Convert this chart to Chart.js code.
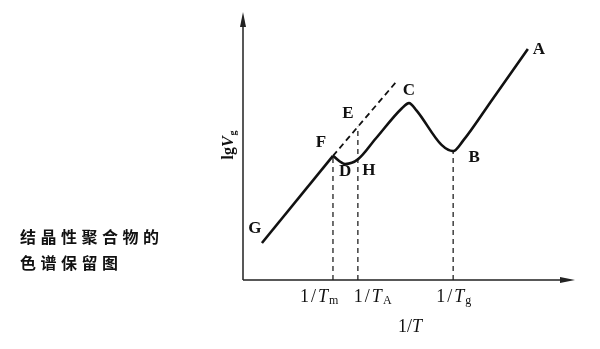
<!DOCTYPE html>
<html>
<head>
<meta charset="utf-8">
<script src="https://cdn.jsdelivr.net/npm/chart.js@4"></script>
<style>
  html, body { margin: 0; padding: 0; background: #fff; }
  canvas { display: block; }
</style>
</head>
<body>
<canvas id="retention" width="600" height="349"></canvas>
<script>
// crystalline polymer retention diagram (lgVg vs 1/T)

// G -> F straight run (melt region)
const meltX = [5.7, 27.1]
const meltY = [13.8, 46.3]

// F -> D -> H -> C -> B -> A
const curveX = [27.1, 30.8, 34.6, 40.0, 47.8, 50.0, 52.3, 59.8, 63.3, 66.3, 75.0, 85.8]
const curveY = [46.3, 43.3, 45.0, 52.8, 64.0, 66.0, 63.2, 50.4, 48.1, 52.0, 67.2, 86.2]

// dashed extrapolation F -> E
const extX = [27.1, 46.4]
const extY = [46.3, 74.3]

// vertical guides at 1/Tm, 1/TA, 1/Tg
const guideX = [27.1, 34.6, 63.3]
const guideTop = [46.3, 57.2, 48.1]
const guideSubs = ['m', 'A', 'g']

// point letters
const pointNames = ['G', 'F', 'E', 'D', 'H', 'C', 'B', 'A']
const pointX = [5.7, 27.1, 34.6, 30.8, 34.6, 50.0, 63.3, 85.8]
const pointY = [13.8, 46.3, 57.2, 43.3, 45.0, 66.0, 48.1, 86.2]

const caption = ['结晶性聚合物的', '色谱保留图']

const toXY = (xs, ys) => xs.map((x, i) => ({ x: x, y: ys[i] }))

const guideSets = guideX.map((x, i) => ({
  data: [{ x: x, y: 0 }, { x: x, y: guideTop[i] }],
  borderColor: '#222',
  borderWidth: 1.3,
  borderDash: [5, 4],
  pointRadius: 0,
  clip: false
}))

const SERIF = "'Liberation Serif', 'DejaVu Serif', serif"

function drawRich(ctx, parts, x, y) {
  let cx = x
  parts.forEach(p => {
    ctx.font = p.f
    ctx.fillText(p.t, cx, y + (p.dy || 0))
    cx += ctx.measureText(p.t).width + (p.gap || 0)
  })
}

function richWidth(ctx, parts) {
  let w = 0
  parts.forEach(p => {
    ctx.font = p.f
    w += ctx.measureText(p.t).width + (p.gap || 0)
  })
  return w
}

// offsets of the letters from their points, in pixels
const letterOffset = {
  G: [-7, -14], F: [-12, -13], E: [-10, -13], D: [0, 8],
  H: [11, 11], C: [0, -13], B: [21, 7], A: [11, 1]
}
const tickShift = [-33, -4, -17]

const decorations = {
  id: 'decorations',
  afterDatasetsDraw(chart) {
    const ctx = chart.ctx
    const xs = chart.scales.x
    const ys = chart.scales.y
    const x0 = xs.getPixelForValue(xs.min)
    const y0 = ys.getPixelForValue(ys.min)
    const xEnd = xs.getPixelForValue(xs.max)
    const yEnd = ys.getPixelForValue(ys.max)
    ctx.save()
    ctx.strokeStyle = '#222'
    ctx.fillStyle = '#222'
    ctx.lineWidth = 1.5
    // axes
    ctx.beginPath()
    ctx.moveTo(x0, y0)
    ctx.lineTo(x0, yEnd + 6)
    ctx.moveTo(x0, y0)
    ctx.lineTo(xEnd - 6, y0)
    ctx.stroke()
    // arrow heads
    ctx.beginPath()
    ctx.moveTo(x0, yEnd)
    ctx.lineTo(x0 - 3, yEnd + 15)
    ctx.lineTo(x0 + 3, yEnd + 15)
    ctx.closePath()
    ctx.fill()
    ctx.beginPath()
    ctx.moveTo(xEnd, y0)
    ctx.lineTo(xEnd - 15, y0 - 3)
    ctx.lineTo(xEnd - 15, y0 + 3)
    ctx.closePath()
    ctx.fill()

    // point letters
    ctx.fillStyle = '#111'
    ctx.font = 'bold 17px ' + SERIF
    ctx.textAlign = 'center'
    ctx.textBaseline = 'middle'
    pointNames.forEach((n, i) => {
      const off = letterOffset[n]
      ctx.fillText(n, xs.getPixelForValue(pointX[i]) + off[0], ys.getPixelForValue(pointY[i]) + off[1])
    })

    // tick labels 1/Tm, 1/TA, 1/Tg
    ctx.textAlign = 'left'
    ctx.textBaseline = 'alphabetic'
    guideX.forEach((v, i) => {
      const parts = [
        { t: '1', f: '18px ' + SERIF, gap: 2 },
        { t: '/', f: '18px ' + SERIF, gap: 2 },
        { t: 'T', f: 'italic 18px ' + SERIF, gap: 1 },
        { t: guideSubs[i], f: '12px ' + SERIF, dy: 2 }
      ]
      drawRich(ctx, parts, xs.getPixelForValue(v) + tickShift[i], y0 + 22)
    })

    // axis title 1/T
    const xt = [
      { t: '1/', f: '18px ' + SERIF },
      { t: 'T', f: 'italic 18px ' + SERIF }
    ]
    drawRich(ctx, xt, 410 - richWidth(ctx, xt) / 2, y0 + 52)

    // y title lgVg
    const yt = [
      { t: 'lg', f: 'bold 16px ' + SERIF },
      { t: 'V', f: 'italic bold 16px ' + SERIF, gap: 1 },
      { t: 'g', f: 'bold 10px ' + SERIF, dy: 3 }
    ]
    ctx.translate(x0 - 10, 145)
    ctx.rotate(-Math.PI / 2)
    drawRich(ctx, yt, -richWidth(ctx, yt) / 2, 0)
    ctx.restore()

    // caption
    ctx.save()
    ctx.fillStyle = '#111'
    ctx.font = 'bold 16px "Noto Sans CJK SC"'
    ctx.textBaseline = 'middle'
    caption.forEach((line, r) => {
      Array.from(line).forEach((ch, k) => {
        ctx.fillText(ch, 20 + k * 20.5, 237 + r * 26)
      })
    })
    ctx.restore()
  }
}

const retention = new Chart(document.getElementById('retention').getContext('2d'), {
  type: 'line',
  data: {
    datasets: [
      {
        data: toXY(meltX, meltY),
        borderColor: '#111',
        borderWidth: 2.6,
        pointRadius: 0,
        clip: false
      },
      {
        data: toXY(curveX, curveY),
        borderColor: '#111',
        borderWidth: 2.6,
        pointRadius: 0,
        cubicInterpolationMode: 'monotone',
        clip: false
      },
      {
        data: toXY(extX, extY),
        borderColor: '#111',
        borderWidth: 1.8,
        borderDash: [6, 4],
        pointRadius: 0,
        clip: false
      },
      ...guideSets
    ]
  },
  options: {
    responsive: false,
    animation: false,
    events: [],
    layout: { padding: { left: 243, right: 25, top: 12, bottom: 69 } },
    scales: {
      x: { type: 'linear', min: 0, max: 100, display: false },
      y: { type: 'linear', min: 0, max: 100, display: false }
    },
    plugins: {
      legend: { display: false },
      tooltip: { enabled: false },
      title: { display: false }
    }
  },
  plugins: [decorations]
})
</script>
</body>
</html>
